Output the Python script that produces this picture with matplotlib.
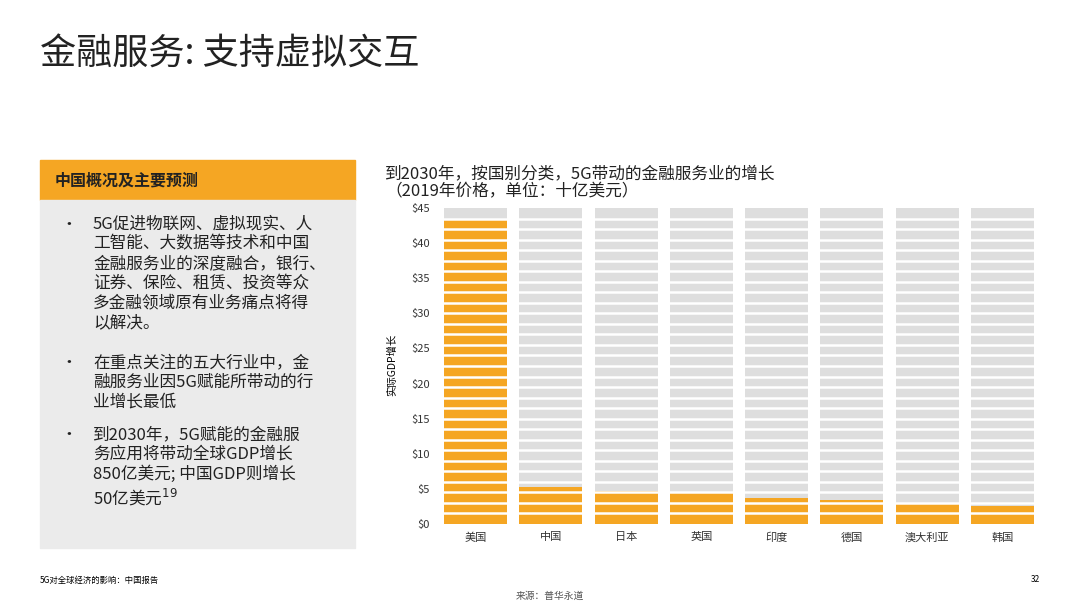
import numpy as np
import matplotlib.pyplot as plt
from matplotlib.patches import Rectangle

plt.rcParams['font.family'] = ['Noto Sans CJK SC', 'DejaVu Sans']

countries = ['美国', '中国', '日本', '英国', '印度', '德国', '澳大利亚', '韩国']
values = [43.5, 5.3, 4.7, 4.4, 3.7, 3.4, 2.9, 2.5]
yticks = [0, 5, 10, 15, 20, 25, 30, 35, 40, 45]
ytick_labels = ['$' + str(v) for v in yticks]
bullets = [
    '5G促进物联网、虚拟现实、人\n工智能、大数据等技术和中国\n金融服务业的深度融合，银行、\n证券、保险、租赁、投资等众\n多金融领域原有业务痛点将得\n以解决。',
    '在重点关注的五大行业中，金\n融服务业因5G赋能所带动的行\n业增长最低',
    '到2030年，5G赋能的金融服\n务应用将带动全球GDP增长\n850亿美元; 中国GDP则增长\n50亿美元$^{19}$',
]

orange = '#F5A623'
grey = '#DEDEDE'

fig = plt.figure(figsize=(10.8, 6.07), dpi=100)
fig.text(40/1080, 1-55/607, '金融服务: 支持虚拟交互', fontsize=26, va='center', color='#222222')

# left panel
fig.patches.append(Rectangle((40/1080, 1-200/607), 315/1080, 40/607, transform=fig.transFigure, color=orange, zorder=0))
fig.patches.append(Rectangle((40/1080, 1-548/607), 315/1080, 348/607, transform=fig.transFigure, color='#EBEBEB', zorder=0))
fig.text(55/1080, 1-181/607, '中国概况及主要预测', fontsize=11.5, va='center', weight='bold', color='#222222')
ys = [216, 354, 426]
for y, t in zip(ys, bullets):
    fig.text(60/1080, 1-y/607, '•', fontsize=12, va='top', color='#222222')
    fig.text(93/1080, 1-y/607, t, fontsize=12, va='top', linespacing=1.2, color='#222222')

# chart
ax = fig.add_axes([438/1080, 1-524/607, 602/1080, 316/607])
x = np.arange(len(countries))
ax.bar(x, [45]*len(x), width=0.84, color=grey)
ax.bar(x, values, width=0.84, color=orange)
ax.hlines(np.arange(1.5, 45, 1.5), -0.5, len(x)-0.5, color='white', lw=1.8)
ax.set_xlim(-0.5, len(x)-0.5)
ax.set_ylim(0, 45)
ax.set_yticks(yticks)
ax.set_yticklabels(ytick_labels, fontsize=8, color='#333333')
ax.set_xticks(x)
ax.set_xticklabels(countries, fontsize=8, color='#333333')
ax.tick_params(length=0, pad=6)
for s in ax.spines.values():
    s.set_visible(False)
fig.text(392/1080, 1-365/607, '实际GDP增长', fontsize=7.5, rotation=90, va='center', ha='center')
fig.text(385/1080, 1-183/607, '到2030年，按国别分类，5G带动的金融服务业的增长\n（2019年价格，单位：十亿美元）',
         fontsize=12, va='center', linespacing=1.1, color='#222222')

fig.text(40/1080, 1-580/607, '5G对全球经济的影响：中国报告', fontsize=6, va='center')
fig.text(1040/1080, 1-580/607, '32', fontsize=6, va='center', ha='right')
fig.text(550/1080, 1-596/607, '来源：普华永道', fontsize=7, va='center', ha='center', color='#555555')

fig.savefig('out.png', dpi=100)
